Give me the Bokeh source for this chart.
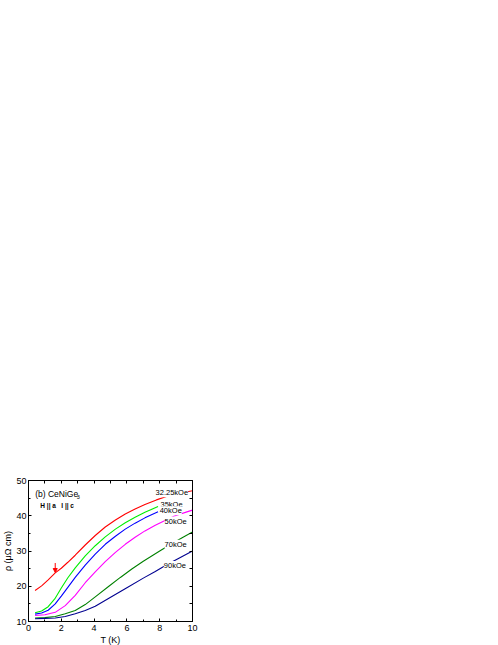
from bokeh.plotting import figure
from bokeh.models import LinearAxis, Label, Arrow, NormalHead, FixedTicker
from bokeh.embed import file_html
from bokeh.resources import INLINE

# ---- data ----
T_3225 = [0.4, 0.8, 1.2, 1.63, 2.0, 2.4, 2.85, 3.46, 4.07, 4.68, 5.3, 5.9, 6.5, 7.1, 7.8, 8.5, 9.2, 10.0]
R_3225 = [18.8, 20.1, 21.8, 23.8, 25.1, 26.8, 28.8, 31.7, 34.4, 36.8, 38.8, 40.5, 41.9, 43.2, 44.5, 45.6, 46.4, 47.1]

T_35 = [0.4, 0.8, 1.2, 1.6, 2.0, 2.4, 2.85, 3.46, 4.07, 4.68, 5.3, 5.9, 6.5, 7.1, 7.9]
R_35 = [12.5, 13.0, 14.2, 16.4, 19.5, 22.4, 25.2, 28.6, 31.5, 34.0, 36.2, 38.0, 39.6, 41.0, 42.6]

T_40 = [0.4, 0.8, 1.2, 1.63, 2.0, 2.24, 2.85, 3.46, 4.07, 4.68, 5.3, 5.9, 6.5, 7.1, 7.9]
R_40 = [12.1, 12.4, 13.2, 15.0, 17.2, 18.7, 22.5, 26.0, 29.1, 31.9, 34.2, 36.2, 37.9, 39.4, 41.1]

T_50 = [0.4, 1.0, 1.63, 2.24, 2.85, 3.46, 4.07, 4.68, 5.3, 5.9, 6.5, 7.1, 7.73, 8.2, 8.9, 9.66, 10.0]
R_50 = [11.7, 11.9, 12.6, 14.5, 17.4, 21.0, 24.1, 27.0, 29.6, 31.9, 33.9, 35.7, 37.3, 38.4, 39.9, 41.1, 41.6]

T_70 = [0.4, 1.0, 1.63, 2.24, 2.85, 3.46, 4.07, 4.9, 5.6, 6.3, 7.0, 8.0, 8.7, 9.45, 10.0]
R_70 = [11.0, 11.1, 11.4, 12.2, 13.1, 14.8, 17.0, 20.0, 22.5, 24.9, 27.1, 30.0, 32.0, 34.0, 35.4]

T_90 = [0.4, 1.0, 1.63, 2.24, 2.85, 3.46, 4.07, 4.98, 6.0, 7.0, 7.73, 8.4, 9.2, 10.0]
R_90 = [10.8, 10.9, 11.0, 11.4, 12.2, 13.1, 14.3, 16.8, 19.6, 22.3, 24.2, 26.0, 28.0, 30.0]

series_names = ["32.25kOe", "35kOe", "40kOe", "50kOe", "70kOe", "90kOe"]
series_T = [T_3225, T_35, T_40, T_50, T_70, T_90]
series_R = [R_3225, R_35, R_40, R_50, R_70, R_90]
series_colors = ["#ff0000", "#00ee00", "#0000ff", "#ff00ff", "#008000", "#000090"]
label_T = [7.75, 8.05, 8.0, 8.3, 8.3, 8.25]
label_R = [46.5, 43.3, 41.4, 38.5, 31.9, 25.9]

x_ticks = [0, 2, 4, 6, 8, 10]
x_minor = [1, 3, 5, 7, 9]
y_ticks = [10, 20, 30, 40, 50]
y_minor = [15, 25, 35, 45]

arrow_T = 1.63
arrow_R0, arrow_R1 = 26.6, 23.9

FONT = "Liberation Sans"

p = figure(frame_width=164, frame_height=141, x_range=(0, 10), y_range=(10, 50),
           output_backend="svg", toolbar_location=None,
           min_border_left=19, min_border_top=480, min_border_right=14, min_border_bottom=10,
           background_fill_color="white", border_fill_color="white")
p.grid.visible = False
p.outline_line_color = "black"
p.outline_line_width = 1

for T, R, c in zip(series_T, series_R, series_colors):
    p.line(T, R, line_color=c, line_width=1.1)

for name, lx, ly in zip(series_names, label_T, label_R):
    p.add_layout(Label(x=lx, y=ly, text=name, text_font=FONT, text_font_size="7.5px",
                       text_color="black", text_baseline="middle", text_align="left",
                       background_fill_color="white", background_fill_alpha=1.0))

p.add_layout(Arrow(end=NormalHead(size=4, line_color="#ff0000", fill_color="#ff0000", line_width=1),
                   x_start=arrow_T, y_start=arrow_R0, x_end=arrow_T, y_end=arrow_R1,
                   line_color="#ff0000", line_width=1))

p.add_layout(Label(x=0.41, y=46.3, text="(b) CeNiGe", text_font=FONT, text_font_size="8.5px",
                   text_color="black", text_baseline="middle"))
p.add_layout(Label(x=0.41, y=46.3, x_offset=41.5, y_offset=-3, text="3", text_font=FONT,
                   text_color="black", text_font_size="5.5px", text_baseline="middle"))
p.add_layout(Label(x=0.72, y=42.9, text="H || a\u00a0\u00a0\u00a0I || c", text_font=FONT,
                   text_font_size="6.5px", text_color="black",
                   text_font_style="bold", text_baseline="middle"))

def style(ax):
    ax.major_tick_in = 3
    ax.major_tick_out = 0
    ax.minor_tick_in = 2
    ax.minor_tick_out = 0
    ax.axis_line_color = "black"
    ax.major_tick_line_color = "black"
    ax.minor_tick_line_color = "black"
    ax.major_label_text_font = FONT
    ax.major_label_text_font_size = "9px"
    ax.major_label_text_color = "black"
    ax.axis_label_text_font = FONT
    ax.axis_label_text_font_size = "9px"
    ax.axis_label_text_font_style = "normal"
    ax.axis_label_text_color = "black"

xa = p.xaxis[0]
ya = p.yaxis[0]
style(xa); style(ya)
xa.ticker = FixedTicker(ticks=x_ticks, minor_ticks=x_minor)
ya.ticker = FixedTicker(ticks=y_ticks, minor_ticks=y_minor)
xa.axis_label = "T (K)"
ya.axis_label = "ρ (μΩ cm)"
xa.major_label_standoff = 3
ya.major_label_standoff = 2
xa.axis_label_standoff = 1
ya.axis_label_standoff = 0

# mirrored tick marks (no labels) on the right and top
for loc, tk, mn in (("right", y_ticks, y_minor), ("above", x_ticks, x_minor)):
    ax = LinearAxis(ticker=FixedTicker(ticks=[], minor_ticks=sorted(tk + mn)))
    style(ax)
    ax.minor_tick_in = 3
    ax.major_label_standoff = 0
    p.add_layout(ax, loc)

open("out.html", "w").write(file_html(p, INLINE))
